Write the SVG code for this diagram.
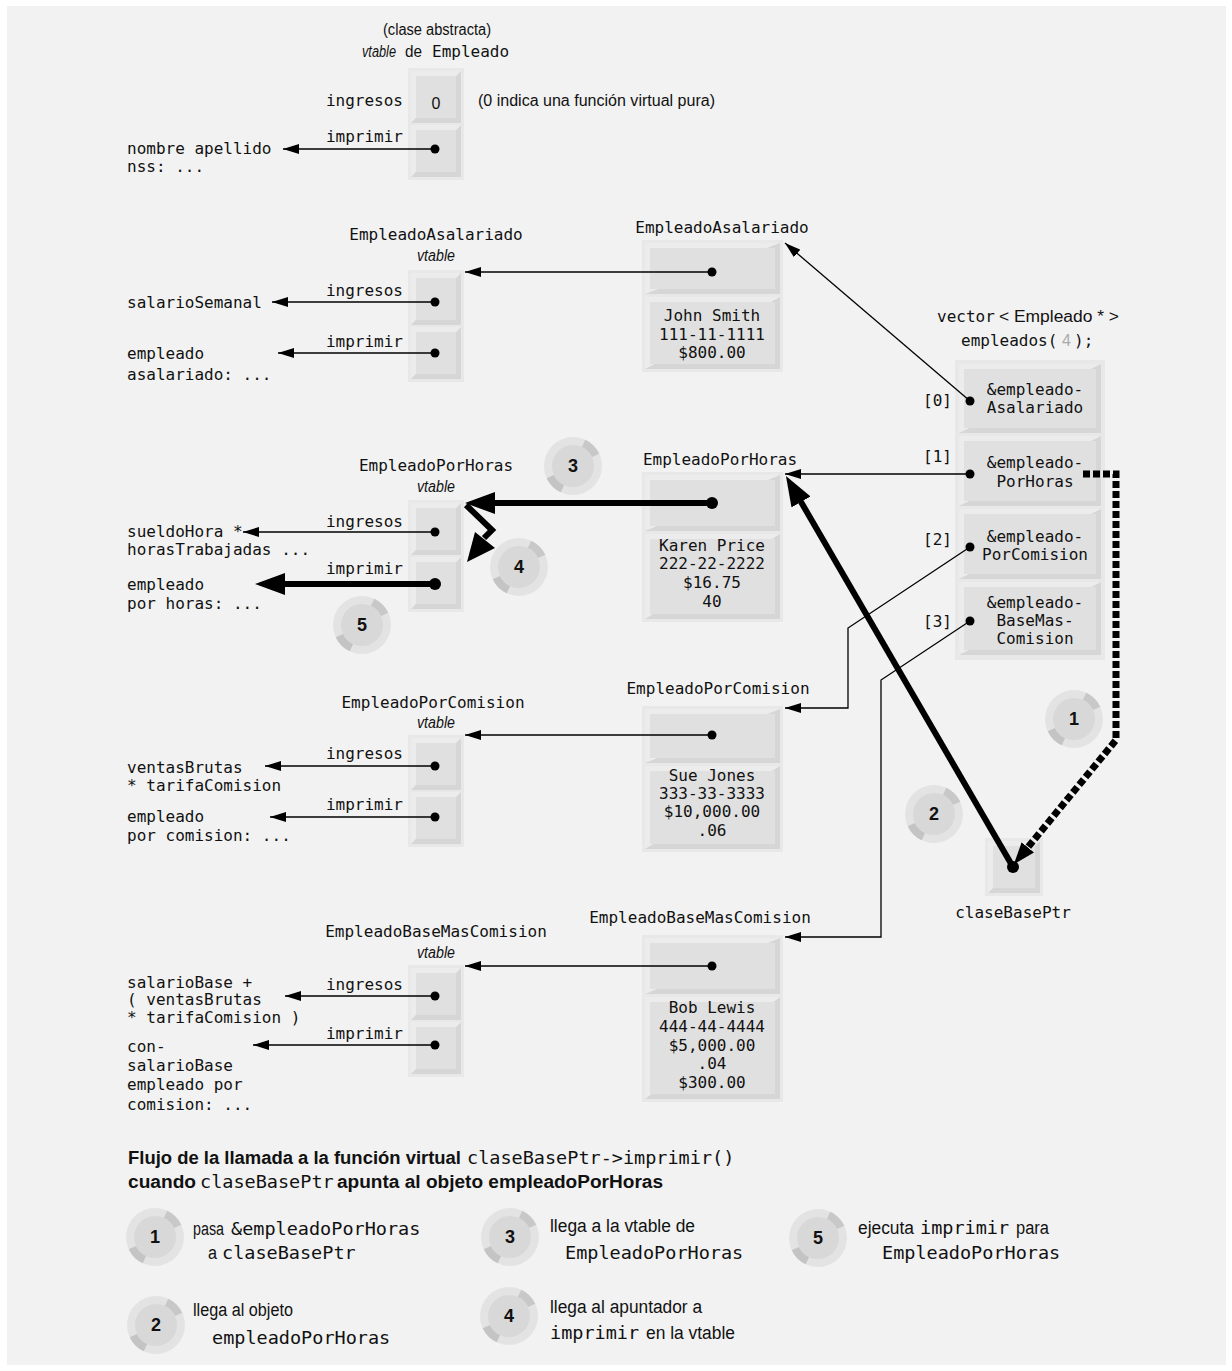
<svg xmlns="http://www.w3.org/2000/svg" width="1232" height="1371" viewBox="0 0 1232 1371">
<style>
.m{font-family:'DejaVu Sans Mono','Liberation Mono',monospace;font-size:16px;fill:#111}
.mc{text-anchor:middle}
.me{text-anchor:end}
.s{font-family:'Liberation Sans',Arial,sans-serif;font-size:16px;fill:#111}
.i{font-style:italic}
.lm{font-family:'DejaVu Sans Mono','Liberation Mono',monospace;font-size:18.5px;fill:#111}
.ls{font-family:'Liberation Sans',Arial,sans-serif;font-size:18px;fill:#111}
.b{font-weight:bold}
.o{fill:#e8e8e8}
.cl{fill:#ececec}
.cd{fill:#d6d6d6}
.cf{fill:#e0e0e0}
.t{stroke:#000;stroke-width:1.3;fill:none}
.k{stroke:#000;stroke-width:6;fill:none}
.n{font-family:'Liberation Sans',Arial,sans-serif;font-size:18px;font-weight:bold;text-anchor:middle;fill:#111}
</style>
<defs>
<marker id="a" viewBox="0 0 16 10" refX="16" refY="5" markerWidth="16" markerHeight="10" markerUnits="userSpaceOnUse" orient="auto"><path d="M0,0 L16,5 L0,10 Z"/></marker>
<marker id="A" viewBox="0 0 30 22" refX="8" refY="11" markerWidth="30" markerHeight="22" markerUnits="userSpaceOnUse" orient="auto"><path d="M0,0 L30,11 L0,22 Z"/></marker>
<marker id="B" viewBox="0 0 22 16" refX="6" refY="8" markerWidth="22" markerHeight="16" markerUnits="userSpaceOnUse" orient="auto"><path d="M0,0 L22,8 L0,16 Z"/></marker>
<g id="bd">
<circle r="29" fill="#e3e3e3"/>
<path d="M10.57,-22.66 A25,25 0 0 1 22.66,-10.57" stroke="#c8c8c8" stroke-width="8" fill="none"/>
<path d="M-10.57,22.66 A25,25 0 0 1 -22.66,10.57" stroke="#c4c4c4" stroke-width="8" fill="none"/>
<circle r="21" fill="#d8d8d8"/>
</g>
</defs>
<rect x="7" y="6" width="1219" height="1359" fill="#f2f2f2"/>

<g id="vt-empleado">
<text class="s" x="383" y="35" textLength="108" lengthAdjust="spacingAndGlyphs">(clase abstracta)</text>
<text class="s i" x="362" y="57" textLength="34" lengthAdjust="spacingAndGlyphs">vtable</text>
<text class="s" x="405" y="57" textLength="17" lengthAdjust="spacingAndGlyphs">de</text>
<text class="m" x="432" y="57">Empleado</text>
<rect class="o" x="408" y="68" width="56" height="112"/>
<rect class="cl" x="411" y="71" width="50" height="52"/><path class="cd" d="M461,71V123H411Z"/><rect class="cf" x="416" y="76" width="40" height="42"/>
<rect class="cl" x="411" y="125" width="50" height="52"/><path class="cd" d="M461,125V177H411Z"/><rect class="cf" x="416" y="130" width="40" height="42"/>
<text class="s" x="436" y="109" text-anchor="middle" font-size="21">0</text>
<text class="m me" x="403" y="106">ingresos</text>
<text class="m me" x="403" y="142">imprimir</text>
<text class="s" x="478" y="106" textLength="237" lengthAdjust="spacingAndGlyphs">(0 indica una función virtual pura)</text>
<text class="m" x="127" y="154">nombre apellido</text>
<text class="m" x="127" y="172">nss: ...</text>
</g>

<g id="vt-asalariado">
<text class="m mc" x="436" y="240">EmpleadoAsalariado</text>
<text class="s i" x="417" y="261" textLength="38" lengthAdjust="spacingAndGlyphs">vtable</text>
<rect class="o" x="408" y="270" width="56" height="112"/>
<rect class="cl" x="411" y="273" width="50" height="52"/><path class="cd" d="M461,273V325H411Z"/><rect class="cf" x="416" y="278" width="40" height="42"/>
<rect class="cl" x="411" y="327" width="50" height="52"/><path class="cd" d="M461,327V379H411Z"/><rect class="cf" x="416" y="332" width="40" height="42"/>
<text class="m me" x="403" y="296">ingresos</text>
<text class="m me" x="403" y="347">imprimir</text>
<text class="m" x="127" y="308">salarioSemanal</text>
<text class="m" x="127" y="359">empleado</text>
<text class="m" x="127" y="380">asalariado: ...</text>
</g>

<g id="obj-asalariado">
<text class="m mc" x="722" y="233">EmpleadoAsalariado</text>
<rect class="o" x="642" y="240" width="141" height="132"/>
<rect class="cl" x="645" y="243" width="135" height="51"/><path class="cd" d="M780,243V294H645Z"/><rect class="cf" x="650" y="248" width="125" height="41"/>
<rect class="cl" x="645" y="297" width="135" height="72"/><path class="cd" d="M780,297V369H645Z"/><rect class="cf" x="650" y="302" width="125" height="62"/>
<text class="m mc" x="712" y="321">John Smith</text>
<text class="m mc" x="712" y="340">111-11-1111</text>
<text class="m mc" x="712" y="358">$800.00</text>
</g>

<g id="vt-porhoras">
<text class="m mc" x="436" y="471">EmpleadoPorHoras</text>
<text class="s i" x="417" y="492" textLength="38" lengthAdjust="spacingAndGlyphs">vtable</text>
<rect class="o" x="408" y="500" width="56" height="112"/>
<rect class="cl" x="411" y="503" width="50" height="52"/><path class="cd" d="M461,503V555H411Z"/><rect class="cf" x="416" y="508" width="40" height="42"/>
<rect class="cl" x="411" y="557" width="50" height="52"/><path class="cd" d="M461,557V609H411Z"/><rect class="cf" x="416" y="562" width="40" height="42"/>
<text class="m me" x="403" y="527">ingresos</text>
<text class="m me" x="403" y="574">imprimir</text>
<text class="m" x="127" y="537">sueldoHora *</text>
<text class="m" x="127" y="555">horasTrabajadas ...</text>
<text class="m" x="127" y="590">empleado</text>
<text class="m" x="127" y="609">por horas: ...</text>
</g>

<g id="obj-porhoras">
<text class="m mc" x="720" y="465">EmpleadoPorHoras</text>
<rect class="o" x="642" y="472" width="141" height="150"/>
<rect class="cl" x="645" y="475" width="135" height="56"/><path class="cd" d="M780,475V531H645Z"/><rect class="cf" x="650" y="480" width="125" height="46"/>
<rect class="cl" x="645" y="534" width="135" height="85"/><path class="cd" d="M780,534V619H645Z"/><rect class="cf" x="650" y="539" width="125" height="75"/>
<text class="m mc" x="712" y="551">Karen Price</text>
<text class="m mc" x="712" y="569">222-22-2222</text>
<text class="m mc" x="712" y="588">$16.75</text>
<text class="m mc" x="712" y="607">40</text>
</g>

<g id="vector">
<text class="m" x="937" y="322">vector</text>
<text class="s" x="999" y="322" textLength="120" lengthAdjust="spacingAndGlyphs">&lt; Empleado * &gt;</text>
<text class="m" x="961" y="346">empleados(</text>
<text class="s" x="1062" y="346" style="fill:#aaa">4</text>
<text class="m" x="1074" y="346">);</text>
<rect class="o" x="955" y="360" width="150" height="300"/>
<rect class="cl" x="959" y="364" width="142" height="69"/><path class="cd" d="M1101,364V433H959Z"/><rect class="cf" x="964" y="369" width="132" height="59"/>
<rect class="cl" x="959" y="436" width="142" height="70"/><path class="cd" d="M1101,436V506H959Z"/><rect class="cf" x="964" y="441" width="132" height="60"/>
<rect class="cl" x="959" y="509" width="142" height="70"/><path class="cd" d="M1101,509V579H959Z"/><rect class="cf" x="964" y="514" width="132" height="60"/>
<rect class="cl" x="959" y="582" width="142" height="73"/><path class="cd" d="M1101,582V655H959Z"/><rect class="cf" x="964" y="587" width="132" height="63"/>
<text class="m me" x="952" y="406">[0]</text>
<text class="m me" x="952" y="462">[1]</text>
<text class="m me" x="952" y="545">[2]</text>
<text class="m me" x="952" y="627">[3]</text>
<text class="m mc" x="1035" y="395">&amp;empleado-</text>
<text class="m mc" x="1035" y="413">Asalariado</text>
<text class="m mc" x="1035" y="468">&amp;empleado-</text>
<text class="m mc" x="1035" y="487">PorHoras</text>
<text class="m mc" x="1035" y="542">&amp;empleado-</text>
<text class="m mc" x="1035" y="560">PorComision</text>
<text class="m mc" x="1035" y="608">&amp;empleado-</text>
<text class="m mc" x="1035" y="626">BaseMas-</text>
<text class="m mc" x="1035" y="644">Comision</text>
</g>

<g id="vt-porcomision">
<text class="m mc" x="433" y="708">EmpleadoPorComision</text>
<text class="s i" x="417" y="728" textLength="38" lengthAdjust="spacingAndGlyphs">vtable</text>
<rect class="o" x="408" y="735" width="56" height="112"/>
<rect class="cl" x="411" y="738" width="50" height="52"/><path class="cd" d="M461,738V790H411Z"/><rect class="cf" x="416" y="743" width="40" height="42"/>
<rect class="cl" x="411" y="792" width="50" height="52"/><path class="cd" d="M461,792V844H411Z"/><rect class="cf" x="416" y="797" width="40" height="42"/>
<text class="m me" x="403" y="759">ingresos</text>
<text class="m me" x="403" y="810">imprimir</text>
<text class="m" x="127" y="773">ventasBrutas</text>
<text class="m" x="127" y="791">* tarifaComision</text>
<text class="m" x="127" y="822">empleado</text>
<text class="m" x="127" y="841">por comision: ...</text>
</g>

<g id="obj-porcomision">
<text class="m mc" x="718" y="694">EmpleadoPorComision</text>
<rect class="o" x="642" y="706" width="141" height="146"/>
<rect class="cl" x="645" y="709" width="135" height="54"/><path class="cd" d="M780,709V763H645Z"/><rect class="cf" x="650" y="714" width="125" height="44"/>
<rect class="cl" x="645" y="766" width="135" height="83"/><path class="cd" d="M780,766V849H645Z"/><rect class="cf" x="650" y="771" width="125" height="73"/>
<text class="m mc" x="712" y="781">Sue Jones</text>
<text class="m mc" x="712" y="799">333-33-3333</text>
<text class="m mc" x="712" y="817">$10,000.00</text>
<text class="m mc" x="712" y="836">.06</text>
</g>

<g id="clasebaseptr">
<rect class="o" x="985" y="838" width="58" height="58"/>
<rect class="cl" x="988" y="841" width="52" height="52"/><path class="cd" d="M1040,841V893H988Z"/><rect class="cf" x="993" y="846" width="42" height="42"/>
<text class="m mc" x="1013" y="918">claseBasePtr</text>
</g>

<g id="vt-basemascomision">
<text class="m mc" x="436" y="937">EmpleadoBaseMasComision</text>
<text class="s i" x="417" y="958" textLength="38" lengthAdjust="spacingAndGlyphs">vtable</text>
<rect class="o" x="408" y="965" width="56" height="112"/>
<rect class="cl" x="411" y="968" width="50" height="52"/><path class="cd" d="M461,968V1020H411Z"/><rect class="cf" x="416" y="973" width="40" height="42"/>
<rect class="cl" x="411" y="1022" width="50" height="52"/><path class="cd" d="M461,1022V1074H411Z"/><rect class="cf" x="416" y="1027" width="40" height="42"/>
<text class="m me" x="403" y="990">ingresos</text>
<text class="m me" x="403" y="1039">imprimir</text>
<text class="m" x="127" y="988">salarioBase +</text>
<text class="m" x="127" y="1005">( ventasBrutas</text>
<text class="m" x="127" y="1023">* tarifaComision )</text>
<text class="m" x="127" y="1052">con-</text>
<text class="m" x="127" y="1071">salarioBase</text>
<text class="m" x="127" y="1090">empleado por</text>
<text class="m" x="127" y="1110">comision: ...</text>
</g>

<g id="obj-basemascomision">
<text class="m mc" x="700" y="923">EmpleadoBaseMasComision</text>
<rect class="o" x="642" y="935" width="141" height="167"/>
<rect class="cl" x="645" y="938" width="135" height="56"/><path class="cd" d="M780,938V994H645Z"/><rect class="cf" x="650" y="943" width="125" height="46"/>
<rect class="cl" x="645" y="997" width="135" height="102"/><path class="cd" d="M780,997V1099H645Z"/><rect class="cf" x="650" y="1002" width="125" height="92"/>
<text class="m mc" x="712" y="1013">Bob Lewis</text>
<text class="m mc" x="712" y="1032">444-44-4444</text>
<text class="m mc" x="712" y="1051">$5,000.00</text>
<text class="m mc" x="712" y="1069">.04</text>
<text class="m mc" x="712" y="1088">$300.00</text>
</g>

<g id="connectors">
<path class="t" d="M435,149H283" marker-end="url(#a)"/>
<path class="t" d="M712,272H465" marker-end="url(#a)"/>
<path class="t" d="M435,302H272" marker-end="url(#a)"/>
<path class="t" d="M435,353H278" marker-end="url(#a)"/>
<path class="k" d="M712,503H487" marker-end="url(#A)"/>
<path class="t" d="M435,532H243" marker-end="url(#a)"/>
<path class="k" d="M435,584H277" marker-end="url(#A)"/>
<path class="k" d="M466,505L492,530L484,538" stroke-linejoin="miter"/>
<polygon points="467,562 475,532 495,548" fill="#000"/>
<path class="t" d="M712,735H465" marker-end="url(#a)"/>
<path class="t" d="M435,766H265" marker-end="url(#a)"/>
<path class="t" d="M435,817H270" marker-end="url(#a)"/>
<path class="t" d="M712,966H465" marker-end="url(#a)"/>
<path class="t" d="M435,996H285" marker-end="url(#a)"/>
<path class="t" d="M435,1045H253" marker-end="url(#a)"/>
<path class="t" d="M970,401L785,243" marker-end="url(#a)"/>
<path class="t" d="M970,474H785" marker-end="url(#a)"/>
<path class="t" d="M970,547L848,628V708H785" marker-end="url(#a)"/>
<path class="t" d="M970,621L881,680V937H785" marker-end="url(#a)"/>
<path class="k" d="M1013,867L797,495" marker-end="url(#A)"/>
<path d="M1083,474H1116V740L1024,852" stroke="#000" stroke-width="7" fill="none" stroke-dasharray="7 3" marker-end="url(#B)"/>
<g fill="#000">
<circle cx="435" cy="149" r="4.5"/><circle cx="712" cy="272" r="4.5"/><circle cx="435" cy="302" r="4.5"/><circle cx="435" cy="353" r="4.5"/>
<circle cx="712" cy="503" r="6"/><circle cx="435" cy="532" r="4.5"/><circle cx="435" cy="584" r="6"/>
<circle cx="712" cy="735" r="4.5"/><circle cx="435" cy="766" r="4.5"/><circle cx="435" cy="817" r="4.5"/>
<circle cx="712" cy="966" r="4.5"/><circle cx="435" cy="996" r="4.5"/><circle cx="435" cy="1045" r="4.5"/>
<circle cx="970" cy="401" r="4.5"/><circle cx="970" cy="474" r="4.5"/><circle cx="970" cy="547" r="4.5"/><circle cx="970" cy="621" r="4.5"/>
<circle cx="1013" cy="867" r="6"/>
</g>
</g>

<g id="badge-3"><use href="#bd" x="573" y="466"/><text class="n" x="573" y="472">3</text></g>
<g id="badge-4"><use href="#bd" x="519" y="567"/><text class="n" x="519" y="573">4</text></g>
<g id="badge-5"><use href="#bd" x="362" y="625"/><text class="n" x="362" y="631">5</text></g>
<g id="badge-1"><use href="#bd" x="1074" y="719"/><text class="n" x="1074" y="725">1</text></g>
<g id="badge-2"><use href="#bd" x="934" y="814"/><text class="n" x="934" y="820">2</text></g>

<g id="legend">
<text class="ls b" x="128" y="1164" textLength="333" lengthAdjust="spacingAndGlyphs">Flujo de la llamada a la función virtual</text>
<text class="lm" x="467" y="1164" font-size="19">claseBasePtr-&gt;imprimir()</text>
<text class="ls b" x="128" y="1188" textLength="68" lengthAdjust="spacingAndGlyphs">cuando</text>
<text class="lm" x="200" y="1188">claseBasePtr</text>
<text class="ls b" x="337" y="1188" textLength="326" lengthAdjust="spacingAndGlyphs">apunta al objeto empleadoPorHoras</text>

<use href="#bd" x="155" y="1237"/><text class="n" x="155" y="1243">1</text>
<text class="ls" x="193" y="1235" font-size="17" textLength="31" lengthAdjust="spacingAndGlyphs">pasa</text>
<text class="lm" x="231" y="1235">&amp;empleadoPorHoras</text>
<text class="ls" x="208" y="1259" textLength="9" lengthAdjust="spacingAndGlyphs">a</text>
<text class="lm" x="222" y="1259">claseBasePtr</text>

<use href="#bd" x="156" y="1325"/><text class="n" x="156" y="1331">2</text>
<text class="ls" x="193" y="1316" textLength="100" lengthAdjust="spacingAndGlyphs">llega al objeto</text>
<text class="lm" x="212" y="1344">empleadoPorHoras</text>

<use href="#bd" x="510" y="1237"/><text class="n" x="510" y="1243">3</text>
<text class="ls" x="550" y="1232" textLength="145" lengthAdjust="spacingAndGlyphs">llega a la vtable de</text>
<text class="lm" x="565" y="1259">EmpleadoPorHoras</text>

<use href="#bd" x="509" y="1316"/><text class="n" x="509" y="1322">4</text>
<text class="ls" x="550" y="1313" textLength="152" lengthAdjust="spacingAndGlyphs">llega al apuntador a</text>
<text class="lm" x="550" y="1339">imprimir</text>
<text class="ls" x="646" y="1339" textLength="89" lengthAdjust="spacingAndGlyphs">en la vtable</text>

<use href="#bd" x="818" y="1238"/><text class="n" x="818" y="1244">5</text>
<text class="ls" x="858" y="1234" textLength="56" lengthAdjust="spacingAndGlyphs">ejecuta</text>
<text class="lm" x="920" y="1234">imprimir</text>
<text class="ls" x="1016" y="1234" textLength="33" lengthAdjust="spacingAndGlyphs">para</text>
<text class="lm" x="882" y="1259">EmpleadoPorHoras</text>
</g>
</svg>
